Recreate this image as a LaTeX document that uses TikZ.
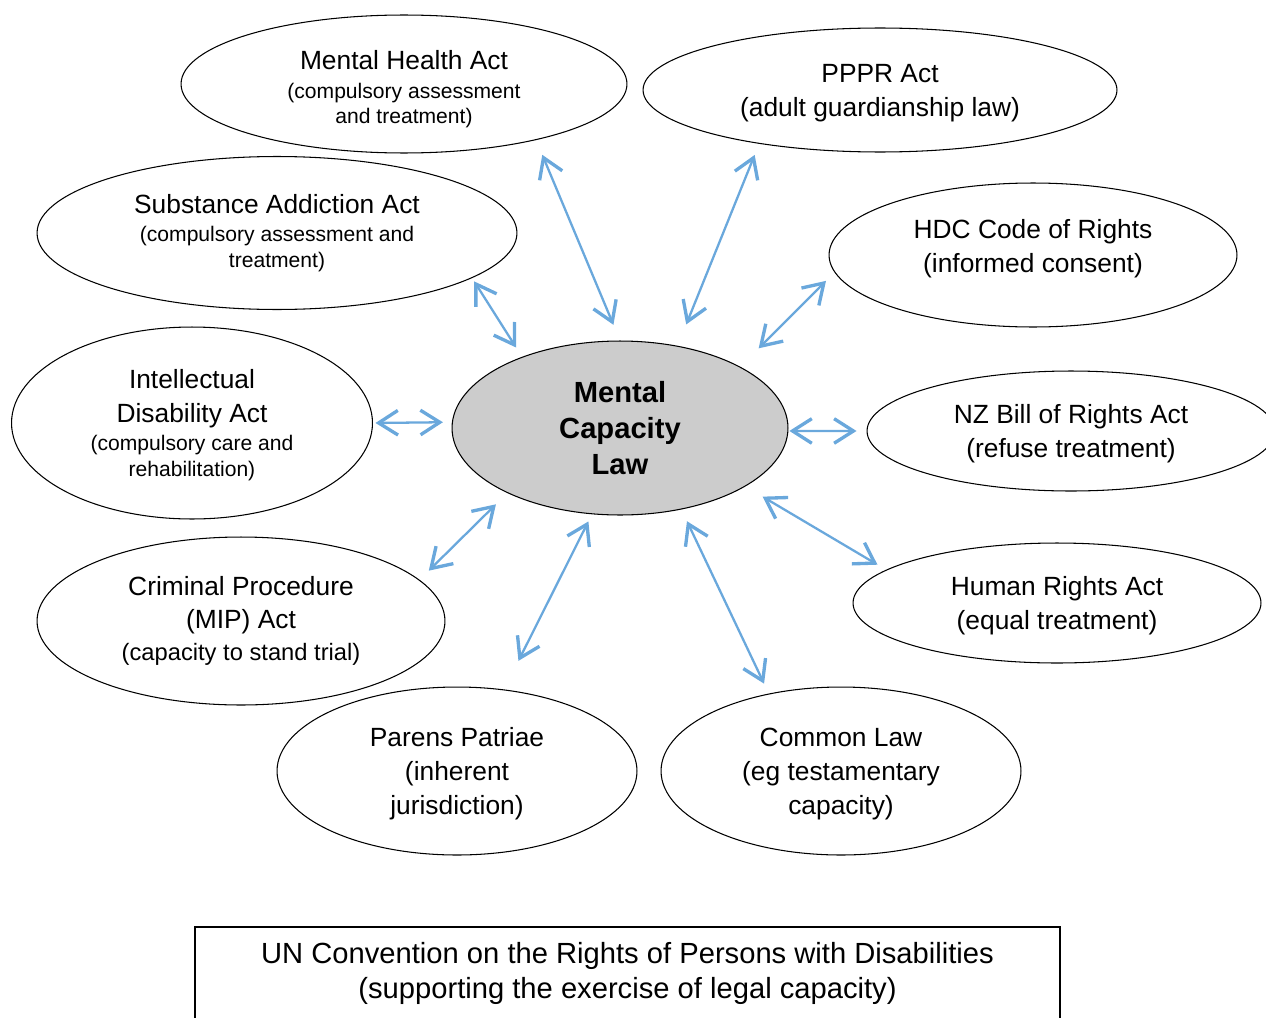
\documentclass[tikz,border=0pt]{standalone}
\usepackage{fontspec}
\setmainfont{Liberation Sans}
\usepackage{tikz}
\usetikzlibrary{shapes}
\usetikzlibrary{arrows.meta}
\definecolor{arrowblue}{RGB}{106,168,220}
\newcommand{\bigtxt}{\fontsize{15}{19.3}\selectfont}
\newcommand{\medtxt}{\fontsize{13.5}{17}\selectfont}
\newcommand{\smalltxt}{\fontsize{12}{14.7}\selectfont}
\newcommand{\boldtxt}{\fontsize{16.6}{20.4}\selectfont\bfseries}
\newcommand{\boxtxt}{\fontsize{16.6}{20.4}\selectfont}

\begin{document}
\begin{tikzpicture}[x=0.02cm,y=-0.02cm,
  law/.style={draw,ellipse,line width=0.6pt,inner sep=0pt,align=center,font=\bigtxt},
  link/.style={<->,draw=arrowblue,line width=1.3pt,>={Straight Barb[length=11pt,width=14pt,line width=1.9pt]}}]
  \useasboundingbox (0,0) rectangle (1266,1017);
  \clip (0,0) rectangle (1266,1017);

  \node[law,fill=gray!40,font=\boldtxt,minimum width=6.72cm,minimum height=3.48cm] (mcl) at (620,428) {Mental\\Capacity\\Law};

  \node[law,text depth=0pt,minimum width=8.92cm,minimum height=2.76cm] (mha) at (404,84) {\rule{0pt}{14.5pt}Mental Health Act\\[-2.8pt]{\smalltxt (compulsory assessment}\\[-5.1pt]{\smalltxt and treatment)}};
  \node[law,text depth=0pt,minimum width=9.48cm,minimum height=2.48cm] (pppr) at (880,90) {PPPR Act\\(adult guardianship law)};
  \node[law,minimum width=9.6cm,minimum height=3.06cm] (saa) at (277,233) {Substance Addiction Act\\[-3.4pt]{\smalltxt (compulsory assessment and}\\[-4.6pt]{\smalltxt treatment)}};
  \node[law,text depth=10pt,minimum width=8.16cm,minimum height=2.88cm] (hdc) at (1033,255) {HDC Code of Rights\\(informed consent)};
  \node[law,text depth=0pt,minimum width=7.22cm,minimum height=3.84cm] (ida) at (192,423) {Intellectual\\Disability Act\\[-3.4pt]{\smalltxt (compulsory care and}\\[-4pt]{\smalltxt rehabilitation)}};
  \node[law,text depth=0pt,minimum width=8.16cm,minimum height=2.4cm] (nz) at (1071,431) {NZ Bill of Rights Act\\(refuse treatment)};
  \node[law,text depth=0pt,minimum width=8.16cm,minimum height=2.4cm] (hra) at (1057,603) {Human Rights Act\\(equal treatment)};
  \node[law,minimum width=8.16cm,minimum height=3.36cm] (cp) at (241,621) {Criminal Procedure\\[-0.6pt](MIP) Act\\[-1.2pt]{\medtxt (capacity to stand trial)}};
  \node[law,text depth=0pt,minimum width=7.2cm,minimum height=3.36cm] (pp) at (457,771) {Parens Patriae\\(inherent\\jurisdiction)};
  \node[law,text depth=0pt,minimum width=7.2cm,minimum height=3.36cm] (cl) at (841,771) {Common Law\\(eg testamentary\\capacity)};

  \node[draw,line width=0.8pt,minimum width=17.3cm,minimum height=1.86cm,align=center,font=\boxtxt] (crpd) at (627.5,973.5) {UN Convention on the Rights of Persons with Disabilities\\(supporting the exercise of legal capacity)};

  % links to the centre
  \draw[link,shorten <=0.34cm,shorten >=0.32cm] (mcl.90) -- (mha.-23);
  \draw[link,shorten <=0.46cm,shorten >=0.24cm] (mcl.55) -- (pppr.204.5);
  \draw[link,shorten <=0.22cm,shorten >=0.08cm] (mcl.144) -- (saa.-13.5);
  \draw[link,shorten <=0.52cm,shorten >=0.24cm] (mcl.27) -- (hdc.185);
  \draw[link,shorten <=0.18cm,shorten >=0.05cm] (mcl.178.3) -- (ida.0);
  \draw[link,shorten <=0.02cm,shorten >=0.2cm] (mcl.-1) -- (nz.180);
  \draw[link,shorten <=0.4cm,shorten >=0.2cm] (mcl.-25) -- (hra.169.5);
  \draw[link,shorten <=0.32cm,shorten >=0.26cm] (mcl.-150.5) -- (cp.13);
  \draw[link,shorten <=0.16cm,shorten >=0.64cm] (mcl.-108) -- (pp.60);
  \draw[link,shorten <=0.26cm,shorten >=0.22cm] (mcl.-53) -- (cl.133.6);
\end{tikzpicture}
\end{document}
